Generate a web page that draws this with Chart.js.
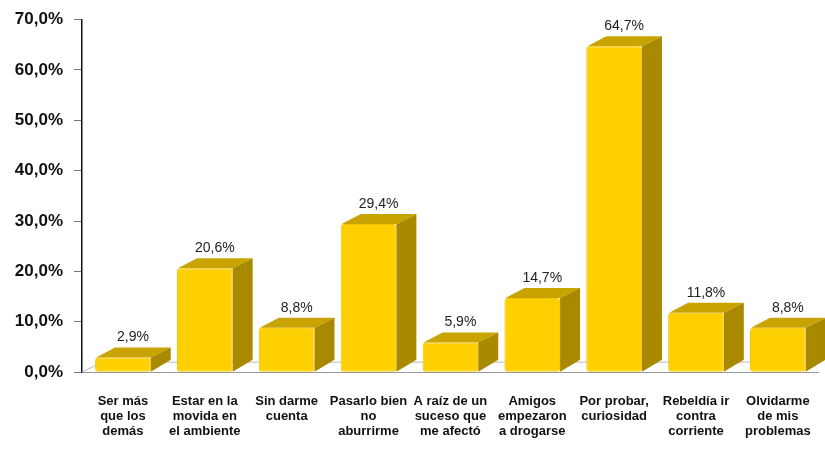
<!DOCTYPE html>
<html>
<head>
<meta charset="utf-8">
<script src="https://cdn.jsdelivr.net/npm/chart.js@4.4.0/dist/chart.umd.min.js"></script>
<style>
  html, body { margin: 0; padding: 0; background: #fff; }
  #wrap { width: 825px; height: 453px; }
</style>
</head>
<body>
<div id="wrap"><canvas id="chart"></canvas></div>
<script>
// motivos de consumo, % de respuestas
const categories = [
  ["Ser más", "que los", "demás"],
  ["Estar en la", "movida en", "el ambiente"],
  ["Sin darme", "cuenta"],
  ["Pasarlo bien", "no", "aburrirme"],
  ["A raíz de un", "suceso que", "me afectó"],
  ["Amigos", "empezaron", "a drogarse"],
  ["Por probar,", "curiosidad"],
  ["Rebeldía ir", "contra", "corriente"],
  ["Olvidarme", "de mis", "problemas"]
];
const values = [2.9, 20.6, 8.8, 29.4, 5.9, 14.7, 64.7, 11.8, 8.8];
const yTicks = [0, 10, 20, 30, 40, 50, 60, 70];

const DX = 20, DY = 10;   // profundidad falsa 3D

function pct(v) {
  return v.toFixed(1).replace(".", ",") + "%";
}

// caras superior y lateral de cada barra, detras del frente
const bars3d = {
  id: "bars3d",
  beforeDatasetsDraw(chart) {
    const ctx = chart.ctx;
    const area = chart.chartArea;
    // linea del fondo del suelo
    ctx.save();
    ctx.strokeStyle = "#bbbbbb";
    ctx.lineWidth = 1;
    ctx.beginPath();
    ctx.moveTo(area.left, area.bottom);
    ctx.lineTo(area.left + DX, area.bottom - DY);
    ctx.lineTo(area.right, area.bottom - DY);
    ctx.stroke();
    chart.getDatasetMeta(0).data.forEach(bar => {
      const x0 = bar.x - bar.width / 2;
      const x1 = bar.x + bar.width / 2;
      const top = bar.y;
      const base = bar.base;
      ctx.fillStyle = "#c9a300";
      ctx.beginPath();
      ctx.moveTo(x0 + 1, top);
      ctx.lineTo(x0 + DX, top - DY);
      ctx.lineTo(x1 + DX, top - DY);
      ctx.lineTo(x1, top);
      ctx.closePath();
      ctx.fill();
      ctx.fillStyle = "#a98900";
      ctx.beginPath();
      ctx.moveTo(x1, top);
      ctx.lineTo(x1 + DX, top - DY);
      ctx.lineTo(x1 + DX, base - DY - 2);
      ctx.lineTo(x1, base);
      ctx.closePath();
      ctx.fill();
    });
    ctx.restore();
  },
  afterDatasetsDraw(chart) {
    const ctx = chart.ctx;
    ctx.save();
    ctx.font = "14px 'Liberation Sans', Arial, sans-serif";
    ctx.fillStyle = "#222";
    ctx.textAlign = "center";
    ctx.textBaseline = "bottom";
    chart.getDatasetMeta(0).data.forEach((bar, i) => {
      ctx.fillText(pct(values[i]), bar.x + DX / 2, bar.y - DY - 3);
    });
    ctx.restore();
  }
};

new Chart(document.getElementById("chart"), {
  type: "bar",
  data: {
    labels: categories,
    datasets: [{
      data: values,
      backgroundColor: "#ffd000",
      borderColor: "#f2c200",
      borderWidth: 1,
      borderRadius: 3,
      borderSkipped: false,
      barPercentage: 0.68,
      categoryPercentage: 1
    }]
  },
  options: {
    responsive: true,
    maintainAspectRatio: false,
    animation: false,
    layout: { padding: { top: 8, right: 5, left: 0, bottom: 0 } },
    plugins: {
      legend: { display: false },
      tooltip: { enabled: false }
    },
    scales: {
      x: {
        grid: { display: false },
        border: { display: true, color: "#999" },
        ticks: {
          color: "#111",
          padding: 14,
          maxRotation: 0,
          autoSkip: false,
          font: { family: "'Liberation Sans', Arial, sans-serif", size: 13, weight: "bold", lineHeight: 1.15 }
        }
      },
      y: {
        min: 0,
        max: 70,
        afterBuildTicks(axis) {
          axis.ticks = yTicks.map(v => ({ value: v }));
        },
        afterFit(axis) { axis.width = 82; },
        grid: { drawOnChartArea: false, tickLength: 8, color: "#777" },
        border: { display: true, color: "#111", width: 1.5 },
        ticks: {
          color: "#111",
          padding: 11,
          callback: v => pct(v),
          font: { family: "'Liberation Sans', Arial, sans-serif", size: 17, weight: "bold", lineHeight: 1.0 }
        }
      }
    }
  },
  plugins: [bars3d]
});
</script>
</body>
</html>
